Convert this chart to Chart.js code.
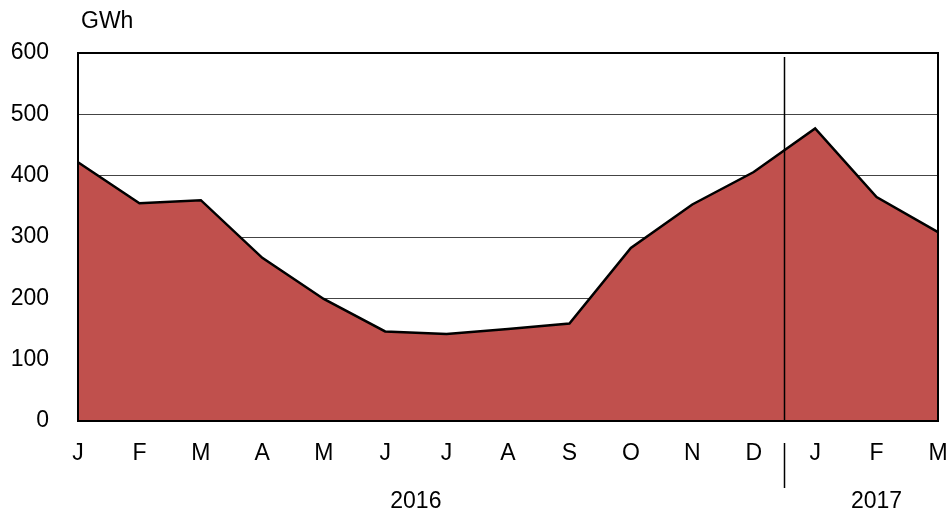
<!DOCTYPE html>
<html>
<head>
<meta charset="utf-8">
<script src="https://cdn.jsdelivr.net/npm/chart.js@4.4.1/dist/chart.umd.min.js"></script>
<style>
  html, body { margin: 0; padding: 0; background: #fff; }
  #wrap { width: 952px; height: 518px; }
</style>
</head>
<body>
<div id="wrap"><canvas id="myChart" width="952" height="518"></canvas></div>
<script>
// month initials, Jan 2016 .. Mar 2017
const monthLabels = ["J", "F", "M", "A", "M", "J", "J", "A", "S", "O", "N", "D", "J", "F", "M"];
// GWh per month
const gwhValues = [422, 355, 360, 266, 199, 146, 142, 150, 159, 282, 353, 406, 477, 365, 308];
// year groups: label, first index, last index
const yearNames = ["2016", "2017"];
const yearStart = [0, 12];
const yearEnd = [11, 14];
const unitLabel = "GWh";

const fontFamily = "'Liberation Sans', Arial, sans-serif";

/* draws the plot frame, year split line, year labels and unit label */
const extrasPlugin = {
  id: "extras",
  afterDraw(chart) {
    const ctx = chart.ctx;
    const area = chart.chartArea;
    const xs = chart.scales.x;

    ctx.save();
    ctx.strokeStyle = "#000";
    ctx.lineWidth = 2;
    ctx.strokeRect(area.left, area.top, area.right - area.left, area.bottom - area.top);

    // split between years
    const splitX = Math.round((xs.getPixelForValue(11) + xs.getPixelForValue(12)) / 2) + 0.5;
    ctx.lineWidth = 1.5;
    ctx.beginPath();
    ctx.moveTo(splitX, area.top + 4);
    ctx.lineTo(splitX, area.bottom);
    ctx.moveTo(splitX, area.bottom + 22);
    ctx.lineTo(splitX, area.bottom + 67);
    ctx.stroke();

    ctx.fillStyle = "#000";
    ctx.font = "23px " + fontFamily;
    ctx.textAlign = "center";
    ctx.textBaseline = "middle";
    for (let i = 0; i < yearNames.length; i++) {
      const mid = (xs.getPixelForValue(yearStart[i]) + xs.getPixelForValue(yearEnd[i])) / 2;
      ctx.fillText(yearNames[i], mid, area.bottom + 81);
    }

    ctx.textAlign = "left";
    ctx.fillText(unitLabel, area.left + 3, 22);
    ctx.restore();
  },
};

const ctx = document.getElementById("myChart").getContext("2d");
new Chart(ctx, {
  type: "line",
  data: {
    labels: monthLabels,
    datasets: [
      {
        data: gwhValues,
        borderColor: "#000",
        borderWidth: 2.5,
        backgroundColor: "#C0504D",
        fill: "origin",
        pointRadius: 0,
        tension: 0,
      },
    ],
  },
  options: {
    responsive: false,
    animation: false,
    layout: { padding: { left: 0, right: 14, top: 53, bottom: 0 } },
    plugins: {
      legend: { display: false },
      tooltip: { enabled: false },
    },
    scales: {
      x: {
        offset: false,
        grid: { display: false, drawTicks: false },
        border: { display: false },
        ticks: {
          color: "#000",
          padding: 19,
          maxRotation: 0,
          autoSkip: false,
          font: { family: fontFamily, size: 23 },
        },
        afterFit: (scale) => {
          scale.height = 97;
          // let the last month label hang past the plot edge
          scale.paddingLeft = 0;
          scale.paddingRight = 0;
        },
      },
      y: {
        min: 0,
        max: 600,
        grid: { color: "#444", lineWidth: 1, drawTicks: false },
        border: { display: false },
        ticks: {
          stepSize: 100,
          color: "#000",
          padding: 29,
          font: { family: fontFamily, size: 23 },
        },
        afterFit: (scale) => {
          scale.width = 78;
        },
      },
    },
  },
  plugins: [extrasPlugin],
});
</script>
</body>
</html>
